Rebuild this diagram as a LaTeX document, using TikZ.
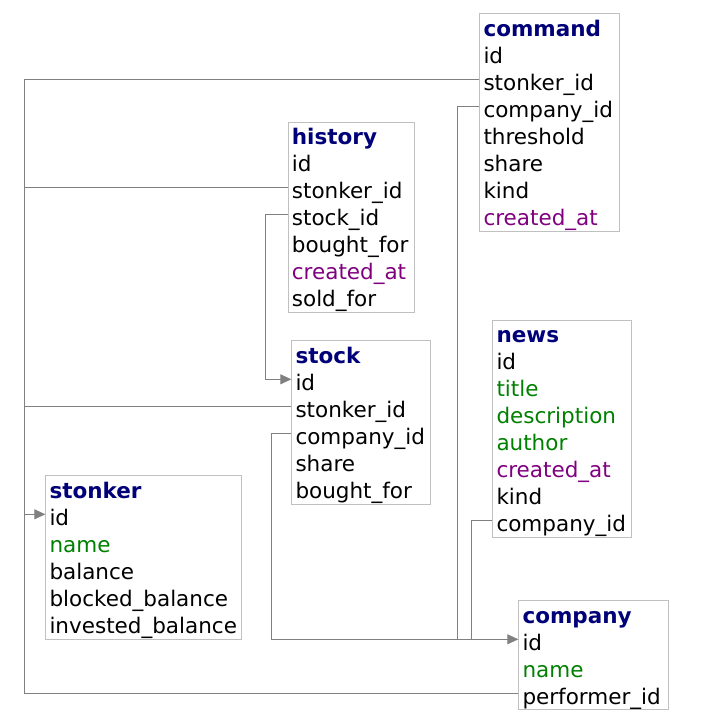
\documentclass[tikz,border=0pt]{standalone}
\usepackage{fontspec}
\setmainfont{DejaVu Sans}
\usetikzlibrary{arrows.meta}
\definecolor{ttlc}{HTML}{000078}
\definecolor{grn}{HTML}{008000}
\definecolor{prp}{HTML}{800080}
\definecolor{lnc}{HTML}{808080}
\definecolor{brd}{HTML}{C0C0C0}
\tikzset{
  tbl/.style={draw=brd, line width=1pt, fill=white, anchor=north west, inner sep=0pt},
  fld/.style={anchor=base west, inner xsep=4pt, inner ysep=0pt, text height=22pt, text depth=0.6pt,
              font=\fontsize{21.5}{27}\selectfont},
  ttl/.style={fld, text=ttlc, font=\fontsize{21.5}{27}\selectfont\bfseries},
  gf/.style={fld, text=grn},
  pf/.style={fld, text=prp},
  conn/.style={draw=lnc, line width=1pt},
  ref/.style={conn, -{Triangle[length=11pt,width=10pt]}, lnc},
}
\begin{document}
\begin{tikzpicture}[x=1pt,y=-1pt]
\useasboundingbox[fill=white] (0,0) rectangle (711,718);

% ---- command
\node[tbl, minimum width=139.4pt, minimum height=218pt] (command) at (479.3,13.3) {};
\node[ttl] (cmd-t) at (479.3,36) {command};
\node[fld] (cmd-id) at (479.3,63) {id};
\node[fld] (cmd-stonker) at (479.3,90) {stonker\_id};
\node[fld] (cmd-company) at (479.3,117) {company\_id};
\node[fld] (cmd-threshold) at (479.3,144) {threshold};
\node[fld] (cmd-share) at (479.3,171) {share};
\node[fld] (cmd-kind) at (479.3,198) {kind};
\node[pf] (cmd-created) at (479.3,225) {created\_at};

% ---- history
\node[tbl, minimum width=126.6pt, minimum height=190.3pt] (history) at (287.7,121.7) {};
\node[ttl] (his-t) at (287.7,144.4) {history};
\node[fld] (his-id) at (287.7,171.4) {id};
\node[fld] (his-stonker) at (287.7,198.4) {stonker\_id};
\node[fld] (his-stock) at (287.7,225.4) {stock\_id};
\node[fld] (his-bought) at (287.7,252.4) {bought\_for};
\node[pf] (his-created) at (287.7,279.4) {created\_at};
\node[fld] (his-sold) at (287.7,306.4) {sold\_for};

% ---- stock
\node[tbl, minimum width=139pt, minimum height=163.7pt] (stock) at (291.3,340.3) {};
\node[ttl] (stk-t) at (291.3,363) {stock};
\node[fld] (stk-id) at (291.3,390) {id};
\node[fld] (stk-stonker) at (291.3,417) {stonker\_id};
\node[fld] (stk-company) at (291.3,444) {company\_id};
\node[fld] (stk-share) at (291.3,471) {share};
\node[fld] (stk-bought) at (291.3,498) {bought\_for};

% ---- news
\node[tbl, minimum width=139pt, minimum height=217.6pt] (news) at (492.3,319.7) {};
\node[ttl] (nws-t) at (492.3,342.4) {news};
\node[fld] (nws-id) at (492.3,369.4) {id};
\node[gf] (nws-title) at (492.3,396.4) {title};
\node[gf] (nws-desc) at (492.3,423.4) {description};
\node[gf] (nws-author) at (492.3,450.4) {author};
\node[pf] (nws-created) at (492.3,477.4) {created\_at};
\node[fld] (nws-kind) at (492.3,504.4) {kind};
\node[fld] (nws-company) at (492.3,531.4) {company\_id};

% ---- stonker
\node[tbl, minimum width=196pt, minimum height=163.7pt] (stonker) at (45.3,475.3) {};
\node[ttl] (stn-t) at (45.3,498) {stonker};
\node[fld] (stn-id) at (45.3,525) {id};
\node[gf] (stn-name) at (45.3,552) {name};
\node[fld] (stn-balance) at (45.3,579) {balance};
\node[fld] (stn-blocked) at (45.3,606) {blocked\_balance};
\node[fld] (stn-invested) at (45.3,633) {invested\_balance};

% ---- company
\node[tbl, minimum width=149.4pt, minimum height=108.7pt] (company) at (518.3,600.3) {};
\node[ttl] (cmp-t) at (518.3,623) {company};
\node[fld] (cmp-id) at (518.3,650) {id};
\node[gf] (cmp-name) at (518.3,677) {name};
\node[fld] (cmp-perf) at (518.3,704) {performer\_id};

% ---- bus coordinates
\coordinate (busbot) at (24.7,693.3);
\coordinate (hx) at (265.7,0);
\coordinate (cx1) at (271.3,0);
\coordinate (cx2) at (457.3,0);
\coordinate (cx3) at (471.3,0);

% ---- connectors to stonker
\draw[conn] (cmd-stonker.west) -| (busbot) -- (cmp-perf.west);
\draw[conn] (his-stonker.west) -- (his-stonker.west -| busbot);
\draw[conn] (stk-stonker.west) -- (stk-stonker.west -| busbot);
\draw[ref] (stn-id.west -| busbot) -- (stn-id.west);

% ---- history -> stock
\draw[ref] (his-stock.west) -- (his-stock.west -| hx) |- (stk-id.west);

% ---- to company
\draw[ref] (stk-company.west) -- (stk-company.west -| cx1) |- (cmp-id.west);
\draw[conn] (cmd-company.west) -- (cmd-company.west -| cx2) -- (cx2 |- cmp-id.west);
\draw[conn] (nws-company.west) -- (nws-company.west -| cx3) -- (cx3 |- cmp-id.west);
\end{tikzpicture}
\end{document}
